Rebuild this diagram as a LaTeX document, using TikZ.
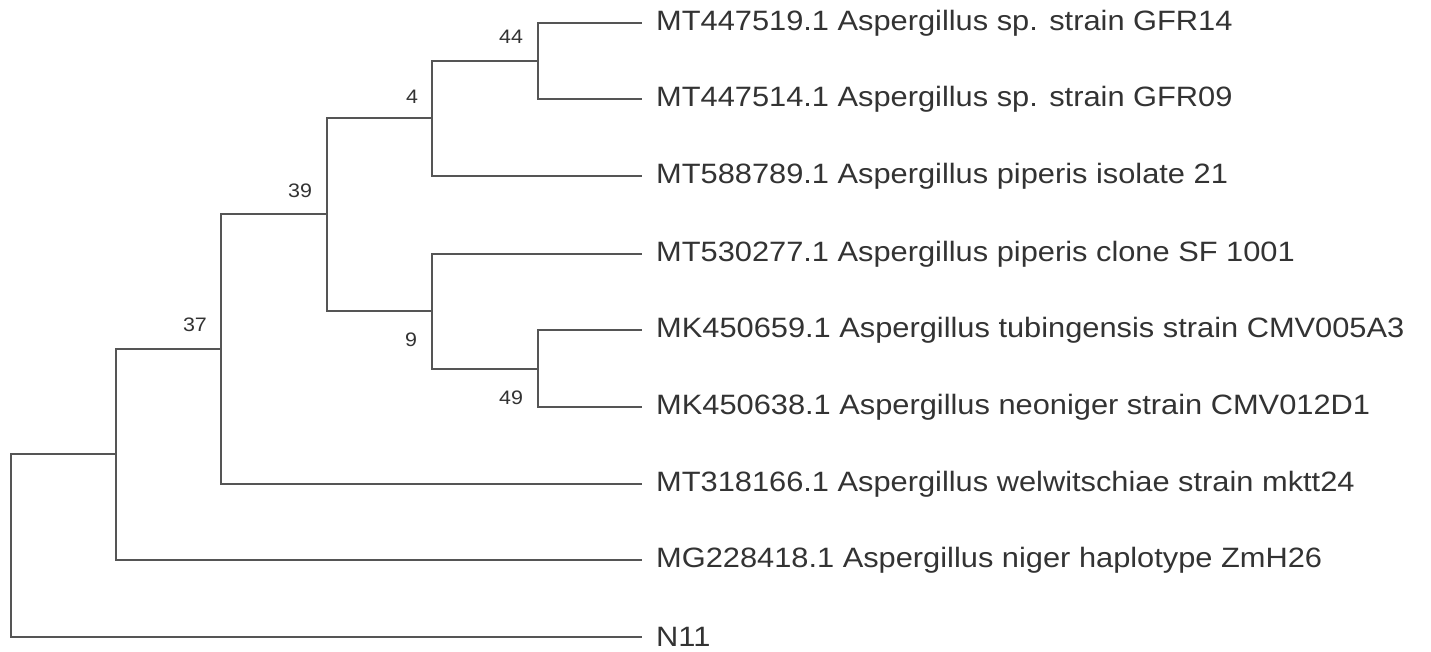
\documentclass[tikz,border=0pt]{standalone}
\usepackage{fontspec}
\setmainfont{Liberation Sans}
\newfontfamily\wideface[FakeStretch=1.10]{Liberation Sans}
\definecolor{branch}{HTML}{555555}
\definecolor{txt}{HTML}{333333}
\tikzset{
  br/.style={draw=branch, line width=2pt},
  leaf/.style={anchor=west, inner sep=0pt, text=txt, font=\wideface\fontsize{28}{31}\selectfont},
  boot/.style={inner sep=0pt, text=txt, font=\wideface\fontsize{19.5}{22}\selectfont},
}
\begin{document}
\begin{tikzpicture}[x=1pt,y=-1pt]
\useasboundingbox (0,0) rectangle (1431,651);
% tips
\coordinate (t1) at (642,23);
\coordinate (t2) at (642,99);
\coordinate (t3) at (642,176);
\coordinate (t4) at (642,254);
\coordinate (t5) at (642,330);
\coordinate (t6) at (642,407);
\coordinate (t7) at (642,484);
\coordinate (t8) at (642,560);
\coordinate (t9) at (642,637);
% internal nodes
\coordinate (n44) at (538,61);
\coordinate (n4) at (432,118);
\coordinate (n49) at (538,369);
\coordinate (n9) at (432,311);
\coordinate (n39) at (327,214);
\coordinate (n37) at (221,349);
\coordinate (n2) at (116,454);
\coordinate (root) at (11,545);
% branches
\draw[br] (n44) |- (t1);
\draw[br] (n44) |- (t2);
\draw[br] (n4) |- (n44);
\draw[br] (n4) |- (t3);
\draw[br] (n49) |- (t5);
\draw[br] (n49) |- (t6);
\draw[br] (n9) |- (t4);
\draw[br] (n9) |- (n49);
\draw[br] (n39) |- (n4);
\draw[br] (n39) |- (n9);
\draw[br] (n37) |- (n39);
\draw[br] (n37) |- (t7);
\draw[br] (n2) |- (n37);
\draw[br] (n2) |- (t8);
\draw[br] (root) |- (n2);
\draw[br] (root) |- (t9);
% leaf labels
\node[leaf] (L1) at (656,23) {MT447519.1 Aspergillus sp. strain GFR14};
\node[leaf] (L2) at (656,99) {MT447514.1 Aspergillus sp. strain GFR09};
\node[leaf] (L3) at (656,176) {MT588789.1 Aspergillus piperis isolate 21};
\node[leaf] (L4) at (656,254) {MT530277.1 Aspergillus piperis clone SF 1001};
\node[leaf] (L5) at (656,330) {MK450659.1 Aspergillus tubingensis strain CMV005A3};
\node[leaf] (L6) at (656,407) {MK450638.1 Aspergillus neoniger strain CMV012D1};
\node[leaf] (L7) at (656,484) {MT318166.1 Aspergillus welwitschiae strain mktt24};
\node[leaf] (L8) at (656,560) {MG228418.1 Aspergillus niger haplotype ZmH26};
\node[leaf] (L9) at (656,637) {N11};
% bootstrap values
\node[boot] (b44) at (511,37) {44};
\node[boot] (b4) at (412,97) {4};
\node[boot] (b39) at (300,191) {39};
\node[boot] (b37) at (195,325) {37};
\node[boot] (b9) at (411,340) {9};
\node[boot] (b49) at (511,398) {49};
\end{tikzpicture}
\end{document}
